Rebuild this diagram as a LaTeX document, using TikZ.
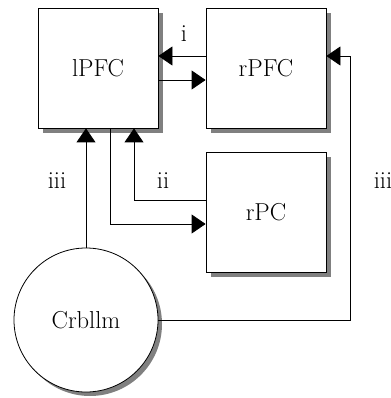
\documentclass[tikz,border=0pt]{standalone}
\usetikzlibrary{arrows.meta,shadows,calc}
\begin{document}
\begin{tikzpicture}[x=1pt,y=-1pt,
  box/.style={draw,line width=0.8pt,fill=white,minimum size=120pt,inner sep=0pt,
    font=\fontsize{24.5}{28}\selectfont,
    drop shadow={shadow xshift=5pt,shadow yshift=-5pt,fill=black!50,opacity=1}},
  blob/.style={draw,circle,line width=0.8pt,fill=white,minimum size=144pt,inner sep=0pt,
    font=\fontsize{24.5}{28}\selectfont,
    drop shadow={shadow xshift=4pt,shadow yshift=-4pt,fill=black!50,opacity=1}},
  lbl/.style={font=\fontsize{24.5}{28}\selectfont,inner sep=0pt},
  conn/.style={line width=0.8pt,-{Triangle[length=14pt,width=19pt]}},
  wire/.style={line width=0.8pt}]
\useasboundingbox (0,0) rectangle (390,398);
\node[box] (lpfc) at (98,68) {lPFC};
\node[box] (rpfc) at (266,68) {rPFC};
\node[box] (rpc) at (266,212) {rPC};
\node[blob] (crb) at (86,320) {Crbllm};
\coordinate (corner) at (350,56);
\draw[conn] ([yshift=12pt]rpfc.west) -- ([yshift=12pt]lpfc.east);
\draw[conn] ([yshift=-12pt]lpfc.east) -- ([yshift=-12pt]rpfc.west);
\draw[conn] (crb.north) -- (crb.north |- lpfc.south);
\draw[conn] ([xshift=12pt]lpfc.south) |- ([yshift=-12pt]rpc.west);
\draw[conn] ([yshift=12pt]rpc.west) -| ([xshift=36pt]lpfc.south);
\draw[conn] (crb.east) -| (corner) -- ([yshift=12pt]rpfc.east);
\node[lbl] (li) at (184,34) {i};
\node[lbl] (lii) at (163,181) {ii};
\node[lbl] (liii) at (57,181) {iii};
\node[lbl] (liiir) at (383,181) {iii};
\end{tikzpicture}
\end{document}
